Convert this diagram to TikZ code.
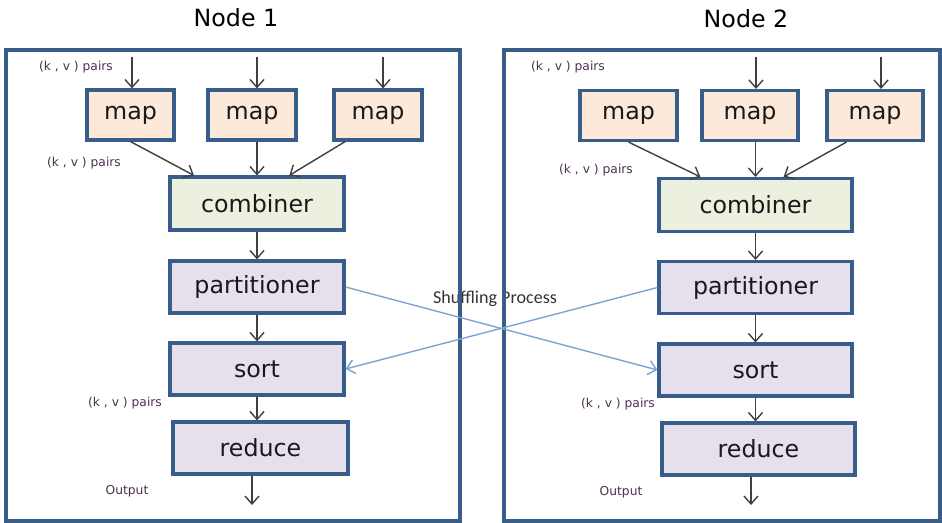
\documentclass[tikz,border=0pt]{standalone}
\usepackage{fontspec}
\setmainfont{DejaVu Sans}
\newfontfamily\shufflefont{Carlito}
\usepackage{xcolor}
\definecolor{frameBlue}{RGB}{56, 93, 138}
\definecolor{mapPeach}{RGB}{253, 233, 217}
\definecolor{combGreen}{RGB}{235, 241, 222}
\definecolor{stageLilac}{RGB}{229, 224, 236}
\definecolor{arrowGray}{RGB}{64, 64, 64}
\definecolor{shuffleBlue}{RGB}{125, 163, 212}
\definecolor{labelText}{RGB}{75, 48, 78}
\usepackage{tikz}
\usetikzlibrary{arrows.meta}

\begin{document}
\begin{tikzpicture}[x=0.02cm, y=-0.02cm,
  frame/.style={rectangle, draw=frameBlue, line width=2pt, inner sep=0pt},
  stage/.style={rectangle, draw=frameBlue, line width=1.8pt, inner sep=0pt,
                font=\fontsize{13.5}{15}\selectfont, text=black!90},
  mapbox/.style={stage, fill=mapPeach, minimum height=1cm},
  combbox/.style={stage, fill=combGreen, minimum height=1.06cm},
  procbox/.style={stage, fill=stageLilac, minimum height=1.04cm},
  title/.style={font=\fontsize{13.5}{15}\selectfont, text=black},
  lbl/.style={font=\fontsize{7}{8}\selectfont, text=labelText},
  arr/.style={-{Straight Barb[length=4.5pt, width=8pt]}, draw=arrowGray, line width=0.8pt},
  shuffle/.style={-{Straight Barb[length=4.5pt, width=8pt]}, draw=shuffleBlue, line width=0.8pt}]

  \useasboundingbox (0,0) rectangle (942,523);

  % ---- titles and labels ----
  \node[title] (t1) at (236,18) {Node 1};
  \node[title] (t2) at (746,19) {Node 2};
  \node[font=\shufflefont\fontsize{10.3}{12}\selectfont, text=black!80] (shl) at (495,299) {Shuffling Process};

  % ---- node frames ----
  \node[frame, minimum width=9.08cm, minimum height=9.42cm] (frameA) at (233,285.5) {};
  \node[frame, minimum width=8.72cm, minimum height=9.42cm] (frameB) at (722,285.5) {};

  \node[lbl] (kvA1) at (76,67)  {(k , v ) pairs};
  \node[lbl] (kvA2) at (84,163) {(k , v ) pairs};
  \node[lbl] (kvA3) at (125,403) {(k , v ) pairs};
  \node[lbl] (outA) at (127,491) {Output};
  \node[lbl] (kvB1) at (568,67)  {(k , v ) pairs};
  \node[lbl] (kvB2) at (596,170) {(k , v ) pairs};
  \node[lbl] (kvB3) at (618,404) {(k , v ) pairs};
  \node[lbl] (outB) at (621,492) {Output};

  % ---- Node 1 ----
  \node[mapbox, minimum width=1.74cm] (map1) at (130.5,115) {map};
  \node[mapbox, minimum width=1.76cm] (map2) at (252,115)   {map};
  \node[mapbox, minimum width=1.76cm] (map3) at (378,115)   {map};
  \node[combbox, minimum width=3.48cm] (comb1) at (257,203.5) {combiner};
  \node[procbox, minimum width=3.48cm] (part1) at (257,287)   {partitioner};
  \node[procbox, minimum width=3.48cm] (sort1) at (257,369)   {sort};
  \node[procbox, minimum width=3.5cm]  (red1)  at (260.5,448) {reduce};

  % ---- Node 2 ----
  \node[mapbox, minimum width=1.94cm] (map4) at (628.5,115.5) {map};
  \node[mapbox, minimum width=1.92cm] (map5) at (750,115.5)   {map};
  \node[mapbox, minimum width=1.92cm] (map6) at (875,115.5)   {map};
  \node[combbox, minimum width=3.86cm] (comb2) at (755.5,205) {combiner};
  \node[procbox, minimum width=3.86cm] (part2) at (755.5,287.5) {partitioner};
  \node[procbox, minimum width=3.86cm] (sort2) at (755.5,370)   {sort};
  \node[procbox, minimum width=3.86cm] (red2)  at (758.5,449)   {reduce};

  % ---- free ends ----
  \coordinate (inA1) at (132,57);
  \coordinate (inA2) at (257,57);
  \coordinate (inA3) at (383,57);
  \coordinate (inB2) at (756,57);
  \coordinate (inB3) at (881,57);
  \coordinate (endA) at (252,505);
  \coordinate (endB) at (751,505);

  % ---- inputs ----
  \draw[arr] (inA1) -- (inA1 |- map1.north);
  \draw[arr] (inA2) -- (inA2 |- map2.north);
  \draw[arr] (inA3) -- (inA3 |- map3.north);
  \draw[arr] (inB2) -- (inB2 |- map5.north);
  \draw[arr] (inB3) -- (inB3 |- map6.north);

  % ---- maps to combiner ----
  \draw[arr] (map1.south) -- (comb1.156);
  \draw[arr] (map2.south -| comb1.north) -- (comb1.north);
  \draw[arr] (map3.219) -- (comb1.41.5);
  \draw[arr] (map4.south) -- (comb2.153);
  \draw[arr] (map5.south -| comb2.north) -- (comb2.north);
  \draw[arr] (map6.223) -- (comb2.45.5);

  % ---- stages ----
  \draw[arr] (comb1) -- (part1);
  \draw[arr] (part1) -- (sort1);
  \draw[arr] (sort1.south) -- (sort1.south |- red1.north);
  \draw[arr] (endA |- red1.south) -- (endA);
  \draw[arr] (comb2) -- (part2);
  \draw[arr] (part2) -- (sort2);
  \draw[arr] (sort2.south) -- (sort2.south |- red2.north);
  \draw[arr] (endB |- red2.south) -- (endB);

  % ---- shuffling ----
  \draw[shuffle] (part1.east) -- (sort2.west);
  \draw[shuffle] (part2.west) -- (sort1.east);

\end{tikzpicture}
\end{document}
